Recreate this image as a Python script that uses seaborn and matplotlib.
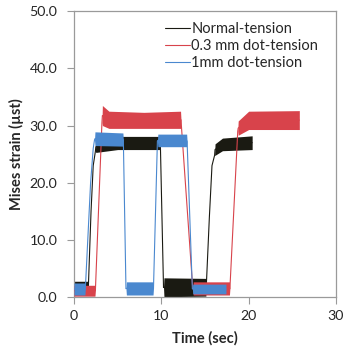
import numpy as np
import pandas as pd
import matplotlib
matplotlib.use("Agg")
import matplotlib.pyplot as plt
from matplotlib.lines import Line2D
import matplotlib.ticker as mticker
import seaborn as sns

# ---- data (time, lower / upper envelope of the noisy trace) ----
series_names = ["Normal-tension", "0.3 mm dot-tension", "1mm dot-tension"]
series_colors = ["#1a1a12", "#d8434b", "#4a88cf"]

black_t  = [0.0, 1.6, 1.65, 1.95, 2.2, 2.45, 2.5, 5.0, 9.85, 9.9, 10.25, 10.3, 15.1, 15.15, 15.5, 15.8, 16.1, 16.15, 17.0, 20.4]
black_lo = [1.0, 1.0, 2.0, 15.0, 23.0, 25.5, 25.3, 25.8, 25.8, 26.0, 1.7, 0.1, 0.2, 2.0, 14.0, 23.0, 24.8, 24.8, 25.6, 25.8]
black_hi = [2.8, 2.8, 2.0, 15.0, 23.0, 25.5, 27.3, 28.1, 28.1, 26.0, 1.7, 3.4, 3.3, 2.0, 14.0, 23.0, 24.8, 26.8, 27.8, 28.2]

red_t  = [0.0, 2.4, 2.45, 3.2, 3.25, 4.0, 8.0, 12.2, 12.25, 13.6, 13.65, 17.8, 17.85, 18.75, 18.8, 20.0, 25.8]
red_lo = [0.2, 0.2, 1.2, 30.5, 30.0, 29.5, 29.5, 29.5, 31.0, 1.5, 0.4, 0.4, 1.5, 29.0, 28.3, 29.3, 29.3]
red_hi = [2.1, 2.1, 1.2, 30.5, 33.5, 32.5, 32.3, 32.5, 31.0, 1.5, 2.7, 2.7, 1.5, 29.0, 30.8, 32.5, 32.6]

blue_t  = [0.0, 1.25, 1.3, 1.9, 2.2, 2.35, 2.4, 5.6, 5.65, 5.95, 6.0, 9.05, 9.1, 9.55, 9.6, 12.9, 12.95, 13.55, 13.6, 17.4]
blue_lo = [0.4, 0.4, 1.5, 20.0, 26.0, 27.5, 26.5, 26.4, 27.5, 1.5, 0.4, 0.4, 1.5, 27.3, 26.3, 26.3, 27.2, 1.5, 0.6, 0.6]
blue_hi = [2.5, 2.5, 1.5, 20.0, 26.0, 27.5, 28.9, 28.7, 27.5, 1.5, 2.7, 2.7, 1.5, 27.3, 28.5, 28.5, 27.2, 1.5, 2.3, 2.3]

x_ticks = [0, 10, 20, 30]
y_ticks = [0, 10, 20, 30, 40, 50]
x_label = "Time (sec)"
y_label = "Mises strain (µst)"

# ---- long table: two rows (low/high) per time point -> seaborn min/max band ----
rows = []
for name, (t, lo, hi) in zip(series_names, [(black_t, black_lo, black_hi),
                                           (red_t, red_lo, red_hi),
                                           (blue_t, blue_lo, blue_hi)]):
    for ti, l, h in zip(t, lo, hi):
        rows.append((name, ti, l))
        rows.append((name, ti, h))
df = pd.DataFrame(rows, columns=["series", "t", "v"])

sns.set_theme(style="white")
plt.rcParams["font.family"] = ["Lato", "DejaVu Sans"]
TXT = "#262626"
GRAY = "#9a9a9a"
FS = 10.5

fig = plt.figure(figsize=(3.46, 3.52), dpi=100)
ax = fig.add_axes([74 / 346, 1 - 297.3 / 352, (336 - 74) / 346, (297.3 - 11) / 352])

sns.lineplot(data=df, x="t", y="v", hue="series", hue_order=series_names,
             palette=series_colors, estimator="mean", errorbar=("pi", 100),
             err_kws={"alpha": 1.0, "linewidth": 0}, linewidth=0.8,
             legend=False, ax=ax)

# stack each series (band + line) above the previous one
for i, (ln, coll) in enumerate(zip(ax.lines, ax.collections)):
    coll.set_zorder(2 + 2 * i)
    ln.set_zorder(2.5 + 2 * i)

ax.set_xlim(0, 30)
ax.set_ylim(0, 50)
ax.set_xticks(x_ticks)
ax.set_yticks(y_ticks)
ax.yaxis.set_major_formatter(mticker.FormatStrFormatter("%.1f"))
ax.tick_params(axis="both", direction="out", length=5, width=0.8, color=GRAY,
               labelsize=10.2, labelcolor=TXT, pad=4)
ax.tick_params(axis="y", pad=7)
ax.tick_params(left=True, bottom=True)
for s in ax.spines.values():
    s.set_visible(True)
    s.set_color(GRAY)
    s.set_linewidth(0.9)

ax.set_xlabel(x_label, fontsize=FS, fontweight="bold", color=TXT)
ax.set_ylabel(y_label, fontsize=FS, fontweight="bold", color=TXT)
ax.xaxis.set_label_coords(0.5, -0.118)
ax.yaxis.set_label_coords(-0.19, 0.5)

handles = [Line2D([0], [0], color=c, lw=0.8) for c in series_colors]
leg = ax.legend(handles, series_names, loc="upper left",
                bbox_to_anchor=(165 / 346, 1 - 22 / 352), bbox_transform=fig.transFigure,
                frameon=False, borderpad=0, borderaxespad=0, handlelength=1.7,
                handletextpad=0.1, labelspacing=0.2, fontsize=FS)
for t in leg.get_texts():
    t.set_color(TXT)

fig.savefig("out.png", dpi=100)
